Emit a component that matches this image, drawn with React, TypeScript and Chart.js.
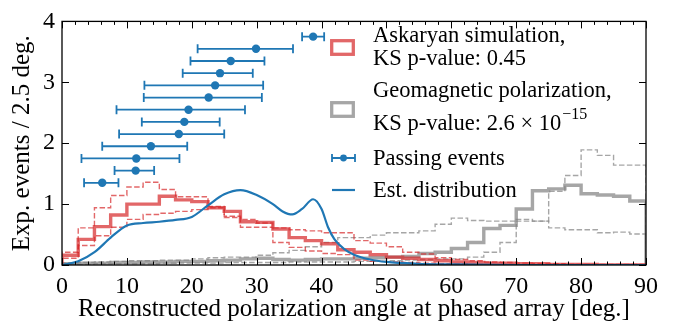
import { useEffect, useRef } from "react";
import { Chart, registerables } from "chart.js";

Chart.register(...registerables);

const FONT = "'Liberation Serif', 'Times New Roman', serif";
const BLUE = "#1f77b4";
const RED = "rgba(214, 39, 40, 0.7)";
const GRAY = "rgba(128, 128, 128, 0.7)";

// Histogram bins: 2.5 deg wide from 0 to 90 deg (36 bins)
const BIN_WIDTH = 2.5;

const askaryan = [
  0.16, 0.42, 0.63, 0.82, 1.0, 1.0, 1.13, 1.07, 1.04, 0.94, 0.88, 0.71,
  0.7, 0.59, 0.45, 0.4, 0.35, 0.25, 0.21, 0.17, 0.13, 0.11, 0.09, 0.07,
  0.05, 0.04, 0.03, 0.03, 0.02, 0.02, 0.01, 0.01, 0.01, 0.0, 0.0, 0.0,
];
const askaryanVarA = [
  0.21, 0.61, 0.94, 1.14, 1.28, 1.36, 1.24, 1.12, 1.12, 0.96, 0.8, 0.75,
  0.69, 0.61, 0.58, 0.56, 0.53, 0.53, 0.4, 0.36, 0.3, 0.21, 0.18, 0.12,
  0.09, 0.07, 0.05, 0.04, 0.03, 0.02, 0.02, 0.01, 0.01, 0.01, 0.01, 0.01,
];
const askaryanVarB = [
  0.11, 0.32, 0.48, 0.62, 0.75, 0.83, 0.85, 0.88, 0.91, 0.94, 0.78, 0.62,
  0.62, 0.37, 0.29, 0.23, 0.19, 0.17, 0.08, 0.06, 0.05, 0.04, 0.03, 0.02,
  0.02, 0.01, 0.01, 0.01, 0.0, 0.0, 0.0, 0.0, 0.0, 0.0, 0.0, 0.0,
];
const geomagnetic = [
  0.02, 0.03, 0.03, 0.04, 0.04, 0.05, 0.05, 0.06, 0.06, 0.07, 0.08, 0.1,
  0.11, 0.09, 0.08, 0.09, 0.1, 0.1, 0.11, 0.12, 0.13, 0.14, 0.19, 0.21,
  0.27, 0.37, 0.6, 0.65, 0.92, 1.22, 1.25, 1.31, 1.17, 1.15, 1.13, 1.05,
];
const geomagneticVarA = [
  0.03, 0.04, 0.05, 0.06, 0.07, 0.07, 0.08, 0.08, 0.1, 0.12, 0.13, 0.13,
  0.16, 0.2, 0.24, 0.3, 0.37, 0.45, 0.45, 0.49, 0.53, 0.53, 0.56, 0.67,
  0.77, 0.73, 0.72, 0.72, 0.75, 0.72, 0.61, 0.58, 0.58, 0.53, 0.54, 0.51,
];
const geomagneticVarB = [
  0.01, 0.01, 0.02, 0.02, 0.02, 0.02, 0.03, 0.03, 0.03, 0.03, 0.04, 0.04,
  0.04, 0.04, 0.05, 0.05, 0.05, 0.05, 0.06, 0.06, 0.07, 0.08, 0.09, 0.1,
  0.1, 0.13, 0.21, 0.37, 0.72, 0.72, 1.21, 1.47, 1.89, 1.8, 1.64, 1.64,
];

// Passing events: reconstructed angle with its uncertainty range, stacked by row
const eventAngle = [6.2, 11.35, 11.45, 13.7, 18.0, 18.85, 19.5, 22.6, 23.6, 24.35, 26.0, 29.9, 38.7];
const eventLow = [3.4, 8.1, 3.0, 6.2, 8.8, 12.3, 8.4, 12.6, 12.7, 18.6, 19.8, 20.9, 37.0];
const eventHigh = [8.7, 14.2, 18.1, 19.3, 25.0, 24.3, 28.2, 30.8, 31.0, 29.4, 31.2, 35.6, 40.4];
const eventRow = [1.35, 1.55, 1.75, 1.95, 2.15, 2.35, 2.55, 2.75, 2.95, 3.15, 3.35, 3.55, 3.75];

// Estimated distribution (smooth curve)
const estAngle = [
  0, 2.5, 5, 7.5, 10, 12.5, 15, 17.5, 20, 22.5, 25, 27.5, 30, 32.5, 34, 35.5,
  37, 38.7, 40, 41, 42, 43.5, 45, 47.5, 50, 55, 60, 70, 90,
];
const estDensity = [
  0.0, 0.06, 0.21, 0.45, 0.65, 0.69, 0.71, 0.74, 0.79, 0.98, 1.16, 1.23, 1.15,
  1.0, 0.88, 0.83, 0.92, 1.08, 0.92, 0.62, 0.42, 0.26, 0.17, 0.09, 0.05, 0.02,
  0.01, 0.0, 0.0,
];

const xTitle = "Reconstructed polarization angle at phased array [deg.]";
const yTitle = "Exp. events / 2.5 deg.";

function stepPoints(values: number[]) {
  const pts = [{ x: 0, y: 0 }];
  values.forEach((v, i) => pts.push({ x: i * BIN_WIDTH, y: v }));
  const end = values.length * BIN_WIDTH;
  pts.push({ x: end, y: values[values.length - 1] });
  pts.push({ x: end, y: 0 });
  return pts;
}

function histDataset(values: number[], dashed: boolean, color: string, order: number) {
  return {
    type: "line" as const,
    data: stepPoints(values),
    borderColor: color,
    borderWidth: dashed ? 1.4 : 3.4,
    borderDash: dashed ? [5.5, 2.4] : [],
    // horizontal run across the bin first, then the vertical edge
    stepped: "before" as const,
    pointRadius: 0,
    fill: false,
    order,
  };
}

const EVENTS_INDEX = 0;

const errorBarPlugin = {
  id: "errorBars",
  beforeDatasetDraw(chart: any, args: any) {
    if (args.index !== EVENTS_INDEX) return;
    const { ctx, scales } = chart;
    const { x, y } = scales;
    ctx.save();
    ctx.strokeStyle = BLUE;
    ctx.lineWidth = 1.8;
    eventAngle.forEach((_, i) => {
      const py = y.getPixelForValue(eventRow[i]);
      const x0 = x.getPixelForValue(eventLow[i]);
      const x1 = x.getPixelForValue(eventHigh[i]);
      ctx.beginPath();
      ctx.moveTo(x0, py);
      ctx.lineTo(x1, py);
      ctx.moveTo(x0, py - 4.5);
      ctx.lineTo(x0, py + 4.5);
      ctx.moveTo(x1, py - 4.5);
      ctx.lineTo(x1, py + 4.5);
      ctx.stroke();
    });
    ctx.restore();
  },
};

const frameAndLegendPlugin = {
  id: "frameAndLegend",
  afterDraw(chart: any) {
    const { ctx, chartArea: a, scales } = chart;
    const { x, y } = scales;
    ctx.save();
    // inward ticks on all four sides
    ctx.strokeStyle = "#000";
    ctx.lineWidth = 1;
    ctx.beginPath();
    for (let v = 0; v <= 90; v += 2) {
      const px = Math.round(x.getPixelForValue(v)) + 0.5;
      const len = v % 10 === 0 ? 7 : 3.5;
      ctx.moveTo(px, a.bottom);
      ctx.lineTo(px, a.bottom - len);
      ctx.moveTo(px, a.top);
      ctx.lineTo(px, a.top + len);
    }
    for (let v = 0; v <= 4; v += 1) {
      const py = Math.round(y.getPixelForValue(v)) + 0.5;
      ctx.moveTo(a.left, py);
      ctx.lineTo(a.left + 7, py);
      ctx.moveTo(a.right, py);
      ctx.lineTo(a.right - 7, py);
    }
    ctx.stroke();
    ctx.lineWidth = 1.3;
    ctx.strokeRect(a.left, a.top, a.right - a.left, a.bottom - a.top);

    // legend
    const lx = 330;
    const tx = 373;
    ctx.lineWidth = 3.3;
    ctx.strokeStyle = RED;
    ctx.strokeRect(lx + 1.7, 40.7, 21.6, 13.6);
    ctx.strokeStyle = GRAY;
    ctx.strokeRect(lx + 1.7, 102.7, 21.6, 13.6);

    ctx.strokeStyle = BLUE;
    ctx.lineWidth = 1.8;
    ctx.beginPath();
    ctx.moveTo(lx + 2, 158);
    ctx.lineTo(lx + 25, 158);
    ctx.moveTo(lx + 2, 154);
    ctx.lineTo(lx + 2, 162);
    ctx.moveTo(lx + 25, 154);
    ctx.lineTo(lx + 25, 162);
    ctx.stroke();
    ctx.fillStyle = BLUE;
    ctx.beginPath();
    ctx.arc(lx + 13.5, 158, 3.4, 0, Math.PI * 2);
    ctx.fill();
    ctx.lineWidth = 2.2;
    ctx.beginPath();
    ctx.moveTo(lx + 2, 190);
    ctx.lineTo(lx + 25, 190);
    ctx.stroke();

    ctx.fillStyle = "#000";
    ctx.textAlign = "left";
    ctx.textBaseline = "alphabetic";
    ctx.font = `22.5px ${FONT}`;
    ctx.fillText("Askaryan simulation,", tx, 41.7);
    ctx.fillText("KS p-value: 0.45", tx, 65);
    ctx.fillText("Geomagnetic polarization,", tx, 96.7);
    const base = "KS p-value: 2.6 \u00d7 10";
    ctx.fillText(base, tx, 130);
    const w = ctx.measureText(base).width;
    ctx.fillText("Passing events", tx, 165);
    ctx.fillText("Est. distribution", tx, 196.7);
    ctx.font = `16px ${FONT}`;
    ctx.fillText("\u221215", tx + w + 1, 119);
    ctx.restore();
  },
};

export default function App() {
  const canvasRef = useRef<HTMLCanvasElement | null>(null);

  useEffect(() => {
    document.body.style.margin = "0";
    const canvas = canvasRef.current;
    if (!canvas) return;

    const datasets: any[] = [
      {
        type: "line",
        data: eventAngle.map((a, i) => ({ x: a, y: eventRow[i] })),
        showLine: false,
        pointRadius: 4.2,
        pointBackgroundColor: BLUE,
        pointBorderColor: BLUE,
        pointBorderWidth: 0,
        order: 0,
      },
      {
        type: "line",
        data: estAngle.map((a, i) => ({ x: a, y: estDensity[i] })),
        borderColor: BLUE,
        borderWidth: 2.2,
        pointRadius: 0,
        cubicInterpolationMode: "monotone",
        fill: false,
        order: 1,
      },
      histDataset(askaryan, false, RED, 2),
      histDataset(askaryanVarA, true, RED, 3),
      histDataset(askaryanVarB, true, RED, 4),
      histDataset(geomagnetic, false, GRAY, 5),
      histDataset(geomagneticVarA, true, GRAY, 6),
      histDataset(geomagneticVarB, true, GRAY, 7),
    ];

    const chart = new Chart(canvas, {
      type: "line",
      data: { datasets },
      plugins: [errorBarPlugin, frameAndLegendPlugin],
      options: {
        animation: false,
        responsive: false,
        devicePixelRatio: 1,
        layout: { padding: { top: 15, right: 40, left: 0, bottom: 0 } },
        plugins: { legend: { display: false }, tooltip: { enabled: false } },
        scales: {
          x: {
            type: "linear",
            min: 0,
            max: 90,
            ticks: {
              stepSize: 10,
              color: "#000",
              font: { family: FONT, size: 24 },
              padding: 7,
              maxRotation: 0,
              autoSkip: false,
            },
            grid: { display: false, drawTicks: false },
            border: { display: false },
            title: {
              display: true,
              text: xTitle,
              color: "#000",
              font: { family: FONT, size: 25 },
              padding: { top: 0, bottom: 0 },
            },
            afterFit: (s: any) => {
              s.height = 59;
            },
          },
          y: {
            type: "linear",
            min: 0,
            max: 4,
            ticks: {
              stepSize: 1,
              color: "#000",
              font: { family: FONT, size: 24 },
              padding: 7,
            },
            grid: { display: false, drawTicks: false },
            border: { display: false },
            title: {
              display: true,
              text: yTitle,
              color: "#000",
              font: { family: FONT, size: 25 },
              padding: { top: 7, bottom: 0 },
            },
            afterFit: (s: any) => {
              s.width = 62;
            },
          },
        },
      },
    });
    return () => chart.destroy();
  }, []);

  return (
    <div style={{ width: 686, height: 324 }}>
      <canvas ref={canvasRef} width={686} height={324} style={{ display: "block" }} />
    </div>
  );
}
